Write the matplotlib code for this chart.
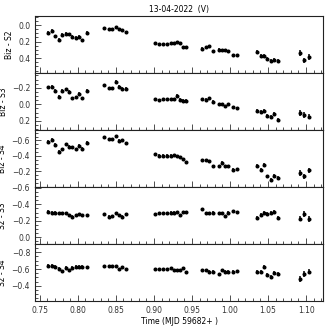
import matplotlib
matplotlib.use('Agg')
import matplotlib.pyplot as plt
from matplotlib.ticker import MultipleLocator

TITLE = '13-04-2022  (V)'
XLABEL = 'Time (MJD 59682+ )'

# observation times (fraction of MJD 59682)
times = [0.7605, 0.7667, 0.7706, 0.7755, 0.7798, 0.7841, 0.7886, 0.7929, 0.7972, 0.8017, 0.8060, 0.8122,
         0.8350, 0.8410, 0.8450, 0.8500, 0.8540, 0.8580, 0.8630,
         0.9020, 0.9070, 0.9125, 0.9175, 0.9220, 0.9260, 0.9300, 0.9340, 0.9380, 0.9420,
         0.9630, 0.9690, 0.9730, 0.9780, 0.9850, 0.9890, 0.9940, 0.9980, 1.0040, 1.0090,
         1.0350, 1.0410, 1.0450, 1.0490, 1.0540, 1.0580, 1.0630,
         1.0920, 1.0970, 1.1040]

errors = [0.02] * 12 + [0.016] * 7 + [0.014] * 10 + [0.016] * 10 + [0.024] * 7 + [0.035] * 3

biz_s2 = [0.094, 0.073, 0.135, 0.175, 0.114, 0.102, 0.110, 0.143, 0.151, 0.143, 0.184, 0.094,
          0.040, 0.049, 0.053, 0.028, 0.053, 0.061, 0.086,
          0.216, 0.229, 0.229, 0.229, 0.222, 0.215, 0.205, 0.215, 0.270, 0.270,
          0.285, 0.265, 0.257, 0.315, 0.297, 0.302, 0.306, 0.318, 0.367, 0.367,
          0.327, 0.379, 0.376, 0.408, 0.440, 0.428, 0.440,
          0.339, 0.428, 0.388]

biz_s3 = [-0.208, -0.216, -0.167, -0.095, -0.167, -0.184, -0.152, -0.075, -0.087, -0.127, -0.075, -0.167,
          -0.236, -0.196, -0.200, -0.273, -0.216, -0.192, -0.192,
          -0.063, -0.055, -0.063, -0.060, -0.065, -0.062, -0.107, -0.058, -0.046, -0.046,
          -0.063, -0.055, -0.075, -0.034, -0.006, -0.006, 0.018, -0.006, 0.034, 0.046,
          0.085, 0.095, 0.075, 0.145, 0.150, 0.115, 0.195,
          0.107, 0.127, 0.148]

biz_s4 = [-0.585, -0.606, -0.542, -0.456, -0.487, -0.551, -0.521, -0.513, -0.487, -0.530, -0.491, -0.572,
          -0.641, -0.619, -0.619, -0.658, -0.597, -0.606, -0.564,
          -0.423, -0.405, -0.405, -0.405, -0.405, -0.410, -0.400, -0.390, -0.360, -0.320,
          -0.341, -0.350, -0.328, -0.273, -0.264, -0.315, -0.273, -0.273, -0.222, -0.231,
          -0.273, -0.222, -0.286, -0.136, -0.085, -0.145, -0.115,
          -0.180, -0.136, -0.213]

s2_s3 = [-0.307, -0.299, -0.299, -0.291, -0.291, -0.291, -0.267, -0.251, -0.267, -0.279, -0.267, -0.267,
         -0.279, -0.251, -0.258, -0.291, -0.267, -0.251, -0.279,
         -0.279, -0.290, -0.290, -0.290, -0.300, -0.300, -0.310, -0.270, -0.310, -0.310,
         -0.340, -0.290, -0.290, -0.300, -0.290, -0.290, -0.258, -0.300, -0.320, -0.307,
         -0.239, -0.267, -0.300, -0.279, -0.290, -0.307, -0.239,
         -0.227, -0.279, -0.218]

s2_s4 = [-0.640, -0.640, -0.624, -0.600, -0.571, -0.612, -0.583, -0.612, -0.624, -0.624, -0.624, -0.620,
         -0.630, -0.630, -0.630, -0.630, -0.600, -0.624, -0.600,
         -0.600, -0.600, -0.600, -0.600, -0.610, -0.590, -0.590, -0.590, -0.610, -0.560,
         -0.590, -0.590, -0.570, -0.570, -0.540, -0.590, -0.570, -0.570, -0.570, -0.575,
         -0.570, -0.570, -0.624, -0.530, -0.510, -0.550, -0.540,
         -0.480, -0.540, -0.570]

labels = ['Biz - S2', 'Biz - S3', 'Biz - S4', 'S2 - S3', 'S2 - S4']
yticks = [[0.0, 0.2, 0.4], [-0.2, 0.0, 0.2], [-0.6, -0.4, -0.2],
          [-0.6, -0.4, -0.2, 0.0], [-0.8, -0.6, -0.4]]
ylims = [(0.58, -0.11), (0.31, -0.38), (0.0, -0.735), (0.08, -0.61), (-0.22, -0.90)]


def main():
    series = [biz_s2, biz_s3, biz_s4, s2_s3, s2_s4]
    fig, axes = plt.subplots(5, 1, figsize=(3.27, 3.27), dpi=100, sharex=True)
    fig.subplots_adjust(left=0.107, right=0.988, top=0.951, bottom=0.080, hspace=0)

    for ax, vals, lab, yt, yl in zip(axes, series, labels, yticks, ylims):
        ax.errorbar(times, vals, yerr=errors, fmt='o', color='black', ms=1.9,
                    elinewidth=1.1, capsize=0)
        ax.set_ylim(*yl)
        ax.set_yticks(yt)
        ax.yaxis.set_minor_locator(MultipleLocator(0.05))
        ax.set_ylabel(lab, fontsize=5.5, labelpad=3)
        ax.tick_params(axis='both', which='both', direction='in', labelsize=5.5,
                       colors='#333333', width=0.6)
        ax.tick_params(axis='both', which='major', length=4)
        ax.tick_params(axis='both', which='minor', length=2)
        for sp in ax.spines.values():
            sp.set_linewidth(0.8)
            sp.set_color('#222222')

    axes[-1].set_xlim(0.7437, 1.1223)
    axes[-1].xaxis.set_major_locator(MultipleLocator(0.05))
    axes[-1].xaxis.set_minor_locator(MultipleLocator(0.01))
    axes[-1].set_xlabel(XLABEL, fontsize=5.5, labelpad=2)
    axes[0].set_title(TITLE, fontsize=5.5, pad=3)

    fig.savefig('out.png', dpi=100)


if __name__ == '__main__':
    main()
